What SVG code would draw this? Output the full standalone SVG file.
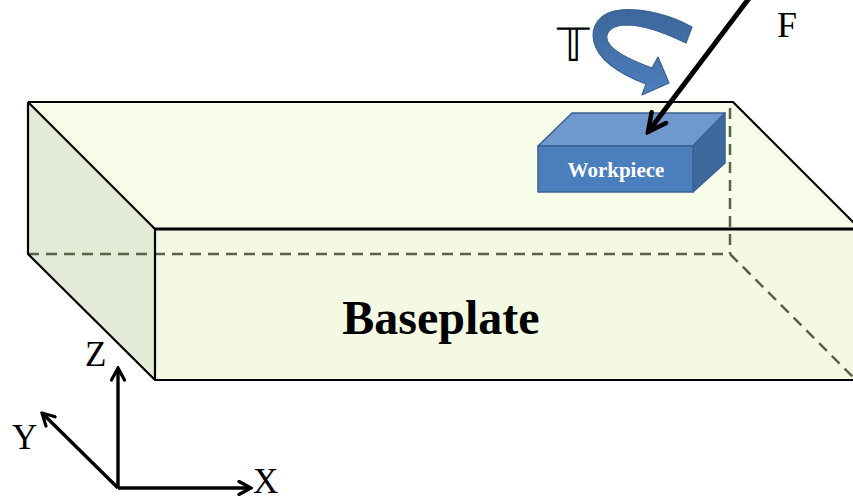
<svg xmlns="http://www.w3.org/2000/svg" width="853" height="502" viewBox="0 0 853 502">
  <style>
    .edge { fill: none; stroke: #000; stroke-width: 2.2; stroke-linejoin: round; }
    .hidden { fill: none; stroke: #5b6149; stroke-width: 2.5; stroke-dasharray: 11 7; }
    .axis { fill: none; stroke: #000; stroke-width: 3.4; }
    .lbl { font-family: "Liberation Serif", "Times New Roman", serif; fill: #000; }
    .wp { stroke: #3a6291; stroke-width: 1.5; stroke-linejoin: round; }
  </style>
  <defs>
    <marker id="chev" viewBox="0 0 16 16" refX="14" refY="8" markerWidth="16" markerHeight="16" markerUnits="userSpaceOnUse" orient="auto">
      <path d="M2,1.5 L14,8 L2,14.5" fill="none" stroke="#000" stroke-width="3.2" stroke-linecap="round" stroke-linejoin="miter"/>
    </marker>
    <marker id="chevBig" viewBox="0 0 24 24" refX="21" refY="12" markerWidth="24" markerHeight="24" markerUnits="userSpaceOnUse" orient="auto">
      <path d="M3,3 L21,12 L3,21" fill="none" stroke="#000" stroke-width="4.5" stroke-linecap="round" stroke-linejoin="miter"/>
    </marker>
    <linearGradient id="twist" x1="0" y1="0" x2="0" y2="1">
      <stop offset="0" stop-color="#3c679c"/>
      <stop offset="0.45" stop-color="#4470aa"/>
      <stop offset="1" stop-color="#4d80bf"/>
    </linearGradient>
  </defs>

  <!-- Baseplate block -->
  <g id="baseplate">
    <polygon points="28,102 733,102 860,229 155,229" fill="#f8fde9"/>
    <polygon points="28,102 155,229 155,380 28,254" fill="#e3ead6"/>
    <rect x="155" y="229" width="700" height="151" fill="#f3f9e3"/>
    <!-- hidden edges -->
    <path class="hidden" d="M28,254 H730"/>
    <path class="hidden" d="M730,108 V254"/>
    <path class="hidden" d="M730,254 L856,380"/>
    <!-- visible edges -->
    <path class="edge" d="M28,102 H733 L860,229"/>
    <path class="edge" d="M28,102 V254 L155,380 H855"/>
    <path class="edge" d="M28,102 L155,229 V380"/>
    <path d="M155,229 H855" stroke="#000" stroke-width="3" fill="none"/>
    <text class="lbl" x="441" y="334" font-size="48" font-weight="bold" text-anchor="middle">Baseplate</text>
  </g>

  <!-- Workpiece block -->
  <g id="workpiece">
    <polygon class="wp" points="538,146 572,113 725,113 693,146" fill="#6f99cd"/>
    <polygon class="wp" points="693,146 725,113 725,163 693,192" fill="#3e699f"/>
    <rect class="wp" x="538" y="146" width="155" height="46" fill="#4a7ebd"/>
    <text class="lbl" x="616" y="177" font-size="21" font-weight="bold" style="fill:#fff" text-anchor="middle">Workpiece</text>
  </g>

  <!-- Torque -->
  <g id="torque">
    <path d="M692,27 C672,16 645,8 620,10 C600,12 590,26 594,42 C598,58 615,72 646,84 L642,95 L669,83 L658,57 L652,68 C630,60 613,52 608,42 C604,33 610,26 625,25 C645,25 665,33 686,43 Z" fill="url(#twist)" stroke="#3a6291" stroke-width="1.2" stroke-linejoin="round"/>
    <text class="lbl" x="557" y="61" font-size="46" font-family="'DejaVu Serif', 'DejaVu Sans', serif">𝕋</text>
  </g>

  <!-- Force -->
  <g id="force">
    <text class="lbl" x="777" y="37" font-size="36">F</text>
  </g>

  <!-- Coordinate axes -->
  <g id="axes">
    <text class="lbl" x="85" y="366" font-size="35">Z</text>
    <text class="lbl" x="12" y="449" font-size="35">Y</text>
    <text class="lbl" x="253" y="493" font-size="35">X</text>
  </g>

  <!-- Connectors -->
  <g id="connectors">
    <line x1="750" y1="-3" x2="648" y2="132" stroke="#000" stroke-width="5" marker-end="url(#chevBig)"/>
    <line class="axis" x1="118" y1="488" x2="118" y2="368" marker-end="url(#chev)"/>
    <line class="axis" x1="118" y1="488" x2="251" y2="488" marker-end="url(#chev)"/>
    <line class="axis" x1="118" y1="488" x2="42" y2="413" marker-end="url(#chev)"/>
  </g>
</svg>
